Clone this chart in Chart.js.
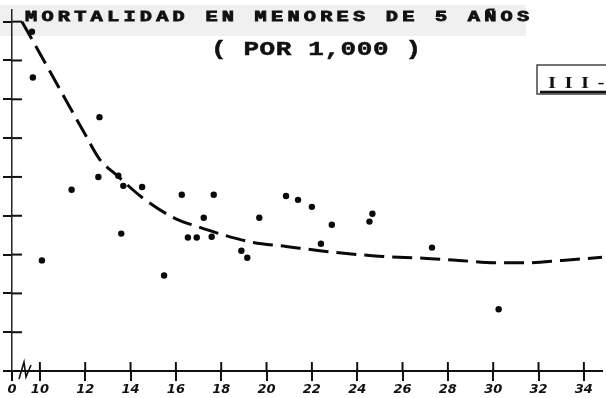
<!DOCTYPE html>
<html>
<head>
<meta charset="utf-8">
<script src="https://cdn.jsdelivr.net/npm/chart.js@4.4.1/dist/chart.umd.min.js"></script>
<style>
  html, body { margin: 0; padding: 0; background: #fff; }
  #wrap { width: 606px; height: 398px; }
</style>
</head>
<body>
<div id="wrap"><canvas id="mortalidad" width="606" height="398"></canvas></div>
<script>
// titulos
var titulo = 'MORTALIDAD EN MENORES DE 5 AÑOS';
var subtitulo = '( POR 1,000 )';
var etiquetaCuadro = 'III-';

// eje x (roto: "0" y luego de 10 a 34)
var xInicio = 8.77;
var xFin = 34.8;
var xTicks = [8.77, 10, 12, 14, 16, 18, 20, 22, 24, 26, 28, 30, 32, 34];
var xEtiquetas = ['0', '10', '12', '14', '16', '18', '20', '22', '24', '26', '28', '30', '32', '34'];

// eje y, sin etiquetas en el original
var yMax = 93;
var yTicks = [0, 10, 20, 30, 40, 50, 60, 70, 80, 90];

// puntos observados
var puntosX = [9.65, 9.69, 12.63, 11.40, 12.58, 13.46, 13.68, 14.51, 13.59, 10.09,
               16.26, 17.67, 17.23, 16.53, 16.92, 17.58, 19.68, 18.89, 19.15, 20.86,
               21.39, 22.00, 22.88, 22.40, 24.67, 24.54, 27.30, 15.48, 30.24];
var puntosY = [87.4, 75.6, 65.4, 46.7, 50.0, 50.3, 47.7, 47.4, 35.4, 28.5,
               45.4, 45.4, 39.5, 34.4, 34.4, 34.6, 39.5, 31.0, 29.2, 45.1,
               44.1, 42.3, 37.7, 32.8, 40.5, 38.5, 31.8, 24.6, 15.9];

// curva ajustada (trazo discontinuo)
var curvaX = [9.21, 10, 10.88, 12.06, 12.63, 13.42, 14.47, 16.0, 16.96, 18.19,
              19.42, 20.86, 22.35, 24.67, 27.08, 28.48, 30.06, 31.46, 33.04, 34.8];
var curvaY = [90, 81.8, 72.6, 60.3, 54.6, 50.3, 44.9, 39.2, 37.2, 34.9,
              33.1, 32.1, 31.0, 29.7, 29.0, 28.5, 27.9, 27.9, 28.5, 29.3];

function pares(xs, ys) {
    return xs.map(function (x, i) { return {x: x, y: ys[i]}; });
}

function letraALetra(ctx, texto, x, y, paso, escala, grosor) {
    texto.split('').forEach(function (ch, i) {
        ctx.save();
        ctx.translate(x + i * paso, y);
        ctx.scale(escala, 1);
        ctx.fillText(ch, 0, 0);
        if (grosor) {
            ctx.lineWidth = grosor;
            ctx.strokeText(ch, 0, 0);
        }
        ctx.restore();
    });
}

var decoracion = {
    id: 'decoracion',
    beforeDraw: function (chart) {
        var ctx = chart.ctx;
        ctx.save();
        ctx.fillStyle = '#f0f0f0';
        ctx.fillRect(0, 5, 526, 31);
        ctx.restore();
    },
    afterDraw: function (chart) {
        var ctx = chart.ctx;
        var xs = chart.scales.x, ys = chart.scales.y;
        ctx.save();
        ctx.strokeStyle = '#111';
        ctx.fillStyle = '#111';

        // mitad superior de las marcas del eje x
        ctx.lineWidth = 2;
        xTicks.forEach(function (v, i) {
            if (i === 0) return;
            var px = xs.getPixelForValue(v);
            ctx.beginPath();
            ctx.moveTo(px, xs.top);
            ctx.lineTo(px, xs.top - 9);
            ctx.stroke();
        });
        // mitad derecha de las marcas del eje y
        yTicks.forEach(function (v) {
            if (v === 0) return;
            var py = ys.getPixelForValue(v);
            ctx.beginPath();
            ctx.moveTo(ys.right, py);
            ctx.lineTo(ys.right + 10, py);
            ctx.stroke();
        });

        // corte del eje x
        var x0 = xs.getPixelForValue(xInicio), y0 = xs.top;
        ctx.lineWidth = 1.6;
        ctx.beginPath();
        ctx.moveTo(x0 + 7, y0 + 8);
        ctx.lineTo(x0 + 12, y0 - 9);
        ctx.lineTo(x0 + 14, y0 + 6);
        ctx.lineTo(x0 + 19, y0 - 6);
        ctx.stroke();

        // titulo
        ctx.textBaseline = 'alphabetic';
        ctx.textAlign = 'left';
        ctx.font = 'bold 14px "Liberation Mono"';
        letraALetra(ctx, titulo, 25, 21, 16.4, 1.45, 0.8);
        ctx.font = 'bold 20px "Liberation Mono"';
        letraALetra(ctx, subtitulo, 211, 55, 16.2, 1.3, 0.5);

        // recuadro
        ctx.lineWidth = 1.5;
        ctx.strokeStyle = '#444';
        ctx.strokeRect(537, 65, 80, 29);
        ctx.lineWidth = 2.5;
        ctx.strokeStyle = '#111';
        ctx.beginPath();
        ctx.moveTo(540, 92);
        ctx.lineTo(606, 92);
        ctx.stroke();
        ctx.font = 'bold 16px "Liberation Serif"';
        letraALetra(ctx, etiquetaCuadro, 548, 88, 16.5, 1.3, 0);
        ctx.restore();
    }
};

var ctx = document.getElementById('mortalidad');
var grafico = new Chart(ctx, {
    data: {
        datasets: [{
            type: 'scatter',
            label: 'Observado',
            data: pares(puntosX, puntosY),
            pointRadius: 3.2,
            pointBackgroundColor: '#0a0a0a',
            pointBorderWidth: 0
        }, {
            type: 'line',
            label: 'Curva',
            data: pares(curvaX, curvaY),
            borderColor: '#0a0a0a',
            borderWidth: 3,
            borderDash: [20, 8],
            pointRadius: 0,
            cubicInterpolationMode: 'monotone',
            fill: false
        }]
    },
    options: {
        responsive: false,
        animation: false,
        devicePixelRatio: 1,
        layout: { padding: { left: 3, top: 10, right: 0, bottom: 0 } },
        plugins: {
            legend: { display: false },
            title: { display: false },
            tooltip: { enabled: false }
        },
        scales: {
            x: {
                type: 'linear',
                min: xInicio,
                max: xFin,
                afterBuildTicks: function (axis) {
                    axis.ticks = xTicks.map(function (v) { return {value: v}; });
                },
                ticks: {
                    color: '#111',
                    padding: 1,
                    autoSkip: false,
                    maxRotation: 0,
                    font: { family: 'DejaVu Sans', size: 13, weight: 'bold', style: 'italic', lineHeight: 1.15 },
                    callback: function (v, i) { return xEtiquetas[i]; }
                },
                grid: {
                    drawOnChartArea: false,
                    drawTicks: true,
                    tickLength: 10,
                    color: '#111',
                    lineWidth: 2
                },
                border: { display: true, color: '#111', width: 2 }
            },
            y: {
                type: 'linear',
                min: 0,
                max: yMax,
                afterBuildTicks: function (axis) {
                    axis.ticks = yTicks.map(function (v) { return {value: v}; });
                },
                ticks: { display: false },
                grid: {
                    drawOnChartArea: false,
                    drawTicks: true,
                    tickLength: 9,
                    color: '#111',
                    lineWidth: 2
                },
                border: { display: true, color: '#222', width: 1.5 }
            }
        }
    },
    plugins: [decoracion]
});
</script>
</body>
</html>
